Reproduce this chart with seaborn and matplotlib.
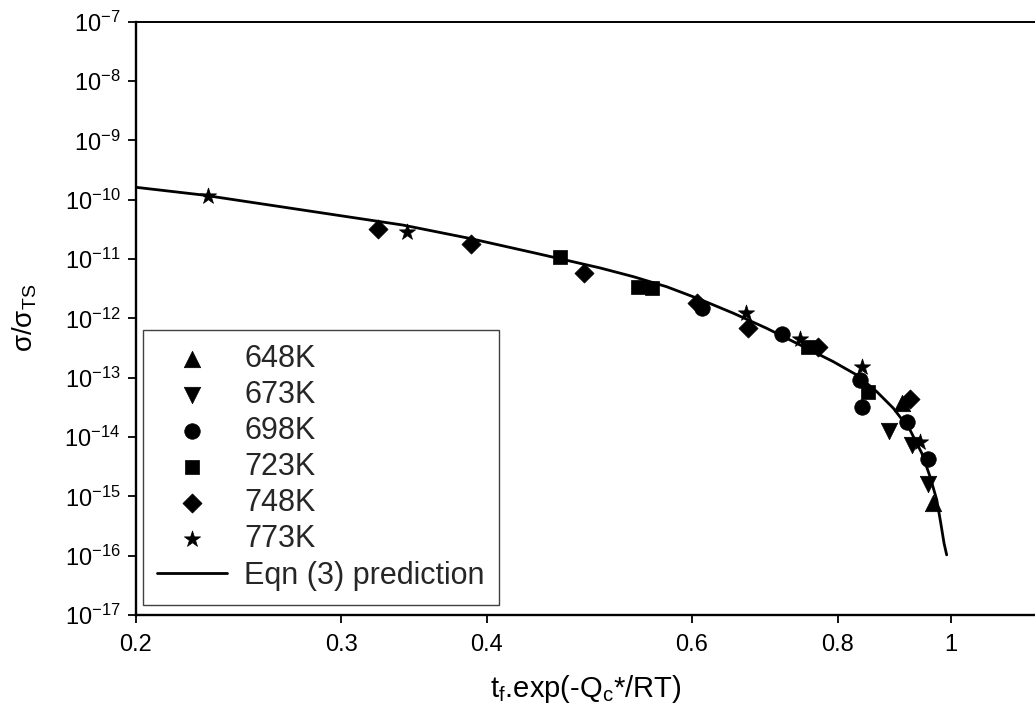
import numpy as np
import pandas as pd
import seaborn as sns
import matplotlib.pyplot as plt
from matplotlib.ticker import NullLocator, LogFormatterMathtext

# measured points, one list pair per test temperature
x_648 = [0.9078, 0.9663]
y_648 = [3.70e-14, 7.64e-16]

x_673 = [0.8858, 0.9259, 0.9567]
y_673 = [1.28e-14, 7.33e-15, 1.61e-15]

x_698 = [0.6116, 0.7162, 0.8361, 0.8389, 0.9179, 0.9567]
y_698 = [1.48e-12, 5.45e-13, 9.14e-14, 3.24e-14, 1.81e-14, 4.21e-15]

x_723 = [0.4623, 0.5396, 0.5541, 0.7548, 0.8499]
y_723 = [1.09e-11, 3.41e-12, 3.21e-12, 3.29e-13, 5.81e-14]

x_748 = [0.3229, 0.3877, 0.4848, 0.6056, 0.6706, 0.7699, 0.9228]
y_748 = [3.21e-11, 1.77e-11, 5.74e-12, 1.84e-12, 6.79e-13, 3.29e-13, 4.33e-14]

x_773 = [0.2305, 0.3416, 0.6671, 0.7426, 0.8389, 0.9412]
y_773 = [1.15e-10, 2.88e-11, 1.22e-12, 4.44e-13, 1.53e-13, 8.34e-15]

# Eqn (3) prediction curve
x_fit = [0.2, 0.2283, 0.2604, 0.2970, 0.3389, 0.3866, 0.4409, 0.5003, 0.5344,
         0.5707, 0.6095, 0.651, 0.6953, 0.7426, 0.7931, 0.8306, 0.8641, 0.8929,
         0.9228, 0.9445, 0.9600, 0.9728, 0.9805, 0.9869, 0.992]
y_fit = [1.62e-10, 1.20e-10, 8.14e-11, 5.52e-11, 3.74e-11, 2.23e-11, 1.25e-11,
         7.08e-12, 5.04e-12, 3.41e-12, 2.09e-12, 1.22e-12, 6.79e-13, 3.56e-13,
         1.86e-13, 1.11e-13, 5.81e-14, 3.05e-14, 1.31e-14, 5.31e-15, 2.14e-15,
         8.67e-16, 3.52e-16, 1.61e-16, 1.03e-16]

x_ticks = [0.2, 0.3, 0.4, 0.6, 0.8, 1.0]
x_tick_labels = ['0.2', '0.3', '0.4', '0.6', '0.8', '1']

series = [
    ('648K', x_648, y_648, '^', 140),
    ('673K', x_673, y_673, 'v', 140),
    ('698K', x_698, y_698, 'o', 125),
    ('723K', x_723, y_723, 's', 115),
    ('748K', x_748, y_748, 'D', 95),
    ('773K', x_773, y_773, '*', 150),
]


def main():
    sns.set_theme(style='ticks')
    plt.rcParams['font.family'] = ['Liberation Sans', 'DejaVu Sans']
    plt.rcParams['mathtext.fontset'] = 'custom'
    plt.rcParams['mathtext.rm'] = 'Liberation Sans'
    plt.rcParams['mathtext.it'] = 'Liberation Sans:italic'
    plt.rcParams['mathtext.bf'] = 'Liberation Sans:bold'
    plt.rcParams['axes.unicode_minus'] = False

    fig = plt.figure(figsize=(10.35, 7.17), dpi=100)
    ax = fig.add_axes([0.1311, 0.1423, 0.8689, 0.8274])

    for name, xs, ys, mk, size in series:
        df = pd.DataFrame({'x': xs, 'y': ys})
        sns.scatterplot(data=df, x='x', y='y', marker=mk, s=size, color='black',
                        edgecolor='black', linewidth=0.5, label=name, ax=ax,
                        zorder=3)

    fit = pd.DataFrame({'x': x_fit, 'y': y_fit})
    sns.lineplot(data=fit, x='x', y='y', color='black', linewidth=2.0,
                 sort=False, estimator=None, label='Eqn (3) prediction', ax=ax,
                 zorder=2)

    ax.set_xscale('log')
    ax.set_yscale('log')
    ax.set_xlim(0.2, 1.181)
    ax.set_ylim(1e-17, 1e-7)
    ax.set_xticks(x_ticks, x_tick_labels)
    ax.set_yticks(10.0 ** np.arange(-17, -6))
    ax.yaxis.set_major_formatter(LogFormatterMathtext())
    ax.xaxis.set_minor_locator(NullLocator())
    ax.yaxis.set_minor_locator(NullLocator())

    ax.tick_params(axis='both', direction='out', length=6, width=1.3,
                   labelsize=17, color='black', labelcolor='black')
    ax.tick_params(axis='x', pad=8)
    ax.tick_params(axis='y', pad=5)
    for side in ['left', 'bottom']:
        ax.spines[side].set_linewidth(1.7)
        ax.spines[side].set_color('black')
    ax.spines['top'].set_linewidth(1.4)
    ax.spines['top'].set_color('black')
    ax.spines['right'].set_visible(False)

    ax.set_xlabel(r't$_\mathrm{f}$.exp(-Q$_\mathrm{c}$*/RT)', fontsize=21,
                  labelpad=12, color='black')
    ax.set_ylabel(r'σ/σ$_\mathrm{TS}$', fontsize=20, labelpad=18, color='black')

    handles, labels = ax.get_legend_handles_labels()
    order = [labels.index(s[0]) for s in series] + [labels.index('Eqn (3) prediction')]
    leg = ax.legend([handles[i] for i in order], [labels[i] for i in order],
                    loc='lower left', bbox_to_anchor=(0.0078, 0.0169),
                    borderaxespad=0, fontsize=22, frameon=True, fancybox=False,
                    framealpha=1, edgecolor='#404040', handlelength=2.3,
                    handletextpad=0.55, labelspacing=0.2, borderpad=0.47,
                    markerscale=1.0)
    leg.get_frame().set_linewidth(1.0)

    fig.savefig('out.png', dpi=100)
    plt.close(fig)


if __name__ == '__main__':
    main()
